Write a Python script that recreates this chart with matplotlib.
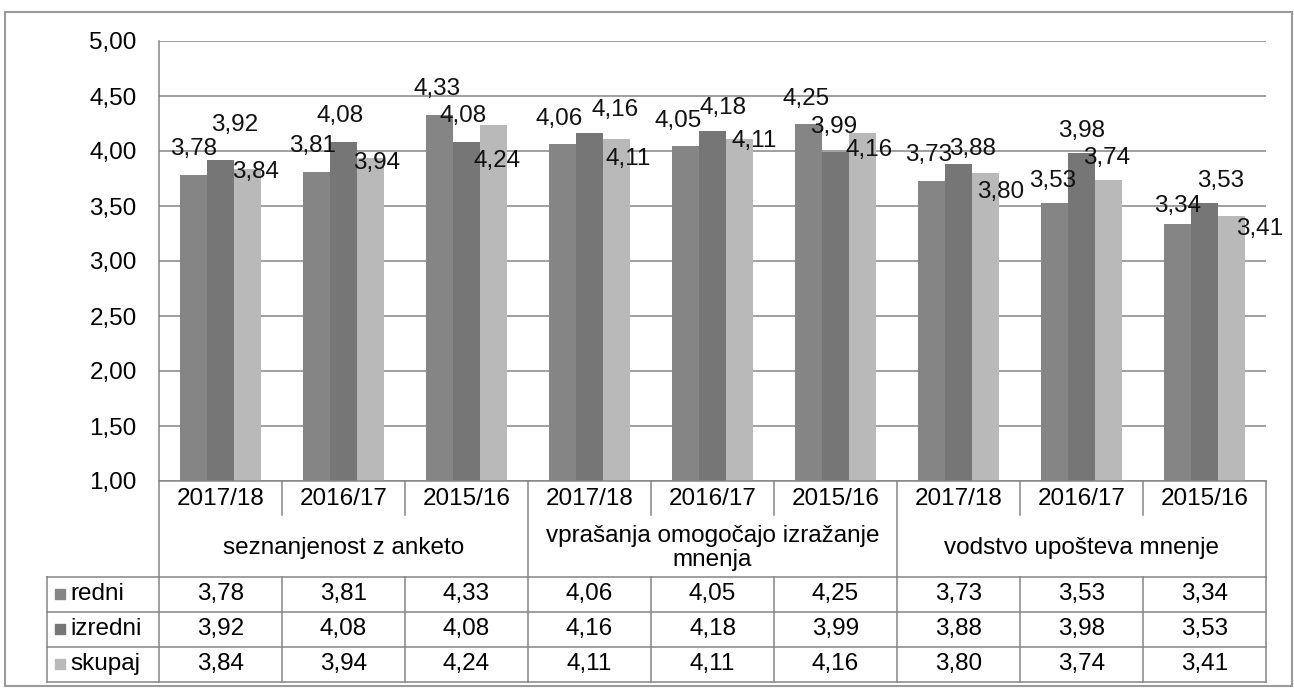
import matplotlib
matplotlib.use("Agg")
import matplotlib.pyplot as plt
import matplotlib.transforms as mtransforms
from matplotlib.lines import Line2D
from matplotlib.patches import Rectangle
import numpy as np

plt.rcParams["font.family"] = ["Liberation Sans", "DejaVu Sans"]

# data
groups = ["seznanjenost z anketo", "vprašanja omogočajo izražanje\nmnenja", "vodstvo upošteva mnenje"]
years = ["2017/18", "2016/17", "2015/16"]
series_names = ["redni", "izredni", "skupaj"]
redni = [3.78, 3.81, 4.33, 4.06, 4.05, 4.25, 3.73, 3.53, 3.34]
izredni = [3.92, 4.08, 4.08, 4.16, 4.18, 3.99, 3.88, 3.98, 3.53]
skupaj = [3.84, 3.94, 4.24, 4.11, 4.11, 4.16, 3.80, 3.74, 3.41]

colours = ["#858585", "#767676", "#b9b9b9"]
grid_c = "#858585"
fs = 17.5

# label offsets (pixels, right / up) from bar top, the scanned chart places them loosely
label_off = [
    [(0, 26), (-4, 26), (-2, 26), (-3, 25), (-7, 25), (-2, 25), (-3, 26), (-2, 22), (0, 18)],
    [(14, 35), (-3, 26), (-3, 26), (26, 23), (11, 23), (-2, 25), (14, 15), (0, 22), (16, 22)],
    [(8, -3), (6, -5), (4, -36), (12, -20), (15, -2), (7, -17), (15, -19), (-2, 22), (28, -13)],
]

W, H = 1294, 690
fig = plt.figure(figsize=(W / 100, H / 100), dpi=100)


def fx(x):
    return x / W


def fy(y):
    return 1 - y / H


ax = fig.add_axes([fx(159), fy(481), fx(1266) - fx(159), fy(41) - fy(481)])

x = np.arange(len(redni))
bw = 0.22
for k, vals in enumerate([redni, izredni, skupaj]):
    pos = x + (k - 1) * bw
    ax.bar(pos, np.array(vals) - 1, bottom=1, width=bw, color=colours[k], zorder=2)
    for i, v in enumerate(vals):
        dx, dy = label_off[k][i]
        ax.annotate(f"{v:.2f}".replace(".", ","), (pos[i], v), xytext=(dx, dy),
                    textcoords="offset pixels", ha="center", va="center",
                    fontsize=fs, color="#111111", zorder=3)

ax.set_xlim(-0.5, len(redni) - 0.5)
ax.set_ylim(1, 5)
yt = np.arange(1, 5.01, 0.5)
ax.set_yticks(yt)
ax.set_yticklabels([f"{t:.2f}".replace(".", ",") for t in yt], fontsize=fs)
ax.tick_params(axis="y", length=0, pad=16)
ax.set_xticks([])
ax.yaxis.grid(True, color=grid_c, lw=1.1, zorder=0)
ax.set_axisbelow(True)
for s in ["top", "right"]:
    ax.spines[s].set_visible(False)
for s in ["left", "bottom"]:
    ax.spines[s].set_color(grid_c)
    ax.spines[s].set_linewidth(1.1)

# data table below the axis
tr = mtransforms.blended_transform_factory(ax.transData, fig.transFigure)
lkw = dict(color=grid_c, lw=1.1)
edges = np.arange(len(redni) + 1) - 0.5
for e in edges:
    bottom = 577 if (e in (-0.5, 2.5, 5.5, 8.5)) else 515
    fig.add_artist(Line2D([e, e], [fy(481), fy(bottom)], transform=tr, **lkw))
    fig.add_artist(Line2D([e, e], [fy(577), fy(682)], transform=tr, **lkw))
for yy in [577, 612, 647, 682]:
    fig.add_artist(Line2D([fx(47), fx(1266)], [fy(yy), fy(yy)], transform=fig.transFigure, **lkw))
fig.add_artist(Line2D([fx(47), fx(47)], [fy(577), fy(682)], transform=fig.transFigure, **lkw))

for i in range(len(redni)):
    fig.text(x[i], fy(499), years[i % 3], transform=tr, ha="center", va="center", fontsize=fs)
for g, name in enumerate(groups):
    fig.text(3 * g + 1, fy(548), name, transform=tr, ha="center", va="center",
             fontsize=fs, linespacing=1.12)

row_y = [594, 629, 664]
for k, vals in enumerate([redni, izredni, skupaj]):
    fig.add_artist(Rectangle((fx(55), fy(row_y[k] + 5)), fx(10), fy(0) - fy(10),
                             transform=fig.transFigure, color=colours[k]))
    fig.text(fx(70), fy(row_y[k]), series_names[k], ha="left", va="center", fontsize=fs)
    for i, v in enumerate(vals):
        fig.text(x[i], fy(row_y[k]), f"{v:.2f}".replace(".", ","), transform=tr,
                 ha="center", va="center", fontsize=fs)

# outer frame of the scanned chart
fig.add_artist(Rectangle((fx(5), fy(686)), fx(1287), fy(12) - fy(686), transform=fig.transFigure,
                         fill=False, edgecolor="#9a9a9a", lw=1.5))

fig.savefig("out.png", dpi=100)
